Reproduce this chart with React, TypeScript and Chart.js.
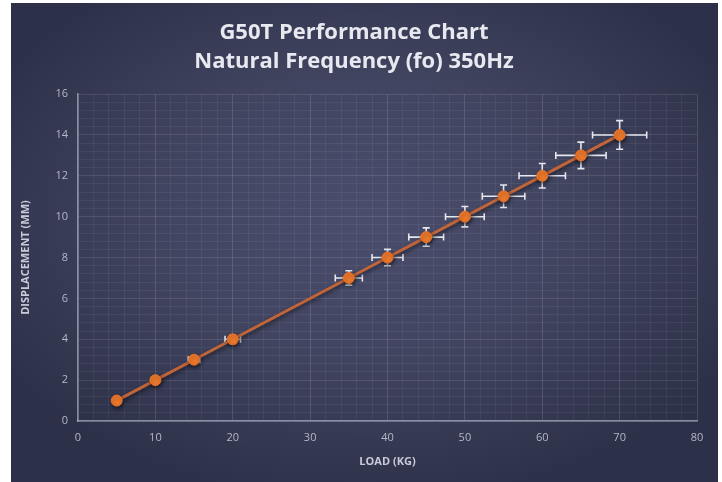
import React, { useEffect, useRef } from 'react';
import { Chart, registerables } from 'chart.js';

Chart.register(...registerables);

// ---- data ----
const titleLines = ['G50T Performance Chart', 'Natural Frequency (fo) 350Hz'];
const xAxisTitle = 'LOAD (KG)';
const yAxisTitle = 'DISPLACEMENT (MM)';

const loads = [5, 10, 15, 20, 35, 40, 45, 50, 55, 60, 65, 70];
const displacements = [1, 2, 3, 4, 7, 8, 9, 10, 11, 12, 13, 14];
const loadErrors = [0.25, 0.5, 0.75, 1, 1.75, 2, 2.25, 2.5, 2.75, 3, 3.25, 3.5];
const displacementErrors = [0.05, 0.1, 0.15, 0.2, 0.35, 0.4, 0.45, 0.5, 0.55, 0.6, 0.65, 0.7];

const xMajorTicks = [0, 10, 20, 30, 40, 50, 60, 70, 80];
const yMajorTicks = [0, 2, 4, 6, 8, 10, 12, 14, 16];
const minorDivisions = 5;

// ---- helpers ----
function withMinor(major: number[]): number[] {
  const out: number[] = [];
  for (let i = 0; i < major.length; i++) {
    out.push(major[i]);
    if (i < major.length - 1) {
      const step = (major[i + 1] - major[i]) / minorDivisions;
      for (let j = 1; j < minorDivisions; j++) {
        out.push(Math.round((major[i] + j * step) * 1e6) / 1e6);
      }
    }
  }
  return out;
}
const isMajor = (v: number, list: number[]) => list.some((m) => Math.abs(m - v) < 1e-6);

const xAllTicks = withMinor(xMajorTicks);
const yAllTicks = withMinor(yMajorTicks);

const errorBarPlugin = {
  id: 'errorBars',
  beforeDatasetsDraw(chart: any) {
    const { ctx, scales } = chart;
    const xs = scales.x;
    const ys = scales.y;
    const cap = 3.5;
    ctx.save();
    ctx.strokeStyle = '#e6e8f0';
    ctx.lineWidth = 1.6;
    loads.forEach((l, i) => {
      const d = displacements[i];
      const px = xs.getPixelForValue(l);
      const py = ys.getPixelForValue(d);
      const x0 = xs.getPixelForValue(l - loadErrors[i]);
      const x1 = xs.getPixelForValue(l + loadErrors[i]);
      const y0 = ys.getPixelForValue(d - displacementErrors[i]);
      const y1 = ys.getPixelForValue(d + displacementErrors[i]);
      ctx.beginPath();
      ctx.moveTo(x0, py);
      ctx.lineTo(x1, py);
      ctx.moveTo(x0, py - cap);
      ctx.lineTo(x0, py + cap);
      ctx.moveTo(x1, py - cap);
      ctx.lineTo(x1, py + cap);
      ctx.moveTo(px, y0);
      ctx.lineTo(px, y1);
      ctx.moveTo(px - cap, y0);
      ctx.lineTo(px + cap, y0);
      ctx.moveTo(px - cap, y1);
      ctx.lineTo(px + cap, y1);
      ctx.stroke();
    });
    ctx.restore();
  },
};

const shadowPlugin = {
  id: 'dsShadow',
  beforeDatasetDraw(chart: any) {
    const ctx = chart.ctx;
    ctx.save();
    ctx.shadowColor = 'rgba(0,0,0,0.55)';
    ctx.shadowBlur = 4;
    ctx.shadowOffsetX = 1;
    ctx.shadowOffsetY = 2;
  },
  afterDatasetDraw(chart: any) {
    chart.ctx.restore();
  },
};

export default function App() {
  const canvasRef = useRef<HTMLCanvasElement | null>(null);

  useEffect(() => {
    if (!canvasRef.current) return;
    const tickFont = { family: '"Open Sans", sans-serif', size: 11 };
    const axisTitleFont = { family: '"Open Sans", sans-serif', size: 11, weight: 'bold' as const };
    const chart = new Chart(canvasRef.current, {
      type: 'scatter',
      data: {
        datasets: [
          {
            label: 'Displacement',
            data: loads.map((l, i) => ({ x: l, y: displacements[i] })),
            showLine: true,
            borderColor: '#c0643a',
            borderWidth: 3,
            backgroundColor: '#f07a2c',
            pointBackgroundColor: '#f07a2c',
            pointBorderColor: '#e8702a',
            pointBorderWidth: 1,
            pointRadius: 5.5,
          },
        ],
      },
      options: {
        animation: false,
        responsive: true,
        maintainAspectRatio: false,
        layout: { padding: { left: 0, right: 21, top: 0, bottom: 0 } },
        plugins: {
          legend: { display: false },
          tooltip: { enabled: false },
          title: {
            display: true,
            text: titleLines,
            color: '#e8e9f0',
            font: { family: '"Open Sans", sans-serif', size: 22, weight: 'bold', lineHeight: 1.32 },
            padding: { top: 15, bottom: 18 },
          },
        },
        scales: {
          x: {
            type: 'linear',
            min: xMajorTicks[0],
            max: xMajorTicks[xMajorTicks.length - 1],
            afterBuildTicks: (scale: any) => {
              scale.ticks = xAllTicks.map((v) => ({ value: v }));
            },
            afterFit: (scale: any) => {
              scale.height = 61;
            },
            ticks: {
              autoSkip: false,
              maxRotation: 0,
              color: '#b4b8c8',
              font: tickFont,
              padding: 10,
              callback: (v: any) => (isMajor(Number(v), xMajorTicks) ? String(v) : ''),
            },
            grid: {
              drawTicks: false,
              color: (c: any) =>
                isMajor(c.tick.value, xMajorTicks) ? 'rgba(255,255,255,0.13)' : 'rgba(255,255,255,0.055)',
              lineWidth: 1,
            },
            border: { color: 'rgba(195,200,220,0.6)', width: 1.5 },
            title: {
              display: true,
              text: xAxisTitle,
              color: '#c8ccda',
              font: axisTitleFont,
              padding: 14,
            },
          },
          y: {
            type: 'linear',
            min: yMajorTicks[0],
            max: yMajorTicks[yMajorTicks.length - 1],
            afterBuildTicks: (scale: any) => {
              scale.ticks = yAllTicks.map((v) => ({ value: v }));
            },
            afterFit: (scale: any) => {
              scale.width = 67;
            },
            ticks: {
              autoSkip: false,
              color: '#b4b8c8',
              font: tickFont,
              padding: 10,
              callback: (v: any) => (isMajor(Number(v), yMajorTicks) ? String(Math.round(Number(v))) : ''),
            },
            grid: {
              drawTicks: false,
              color: (c: any) =>
                isMajor(c.tick.value, yMajorTicks) ? 'rgba(255,255,255,0.11)' : 'rgba(255,255,255,0.055)',
              lineWidth: 1,
            },
            border: { color: 'rgba(195,200,220,0.6)', width: 1.5 },
            title: {
              display: true,
              text: yAxisTitle,
              color: '#c8ccda',
              font: axisTitleFont,
              padding: 8,
            },
          },
        },
      },
      plugins: [errorBarPlugin, shadowPlugin],
    } as any);
    return () => chart.destroy();
  }, []);

  return (
    <div
      style={{
        position: 'absolute',
        left: 11,
        top: 3,
        width: 707,
        height: 479,
        background:
          'radial-gradient(ellipse 60% 60% at 50% 45%, #4a4e6d 0%, #40445f 50%, #2c3048 100%)',
      }}
    >
      <canvas ref={canvasRef} />
    </div>
  );
}
